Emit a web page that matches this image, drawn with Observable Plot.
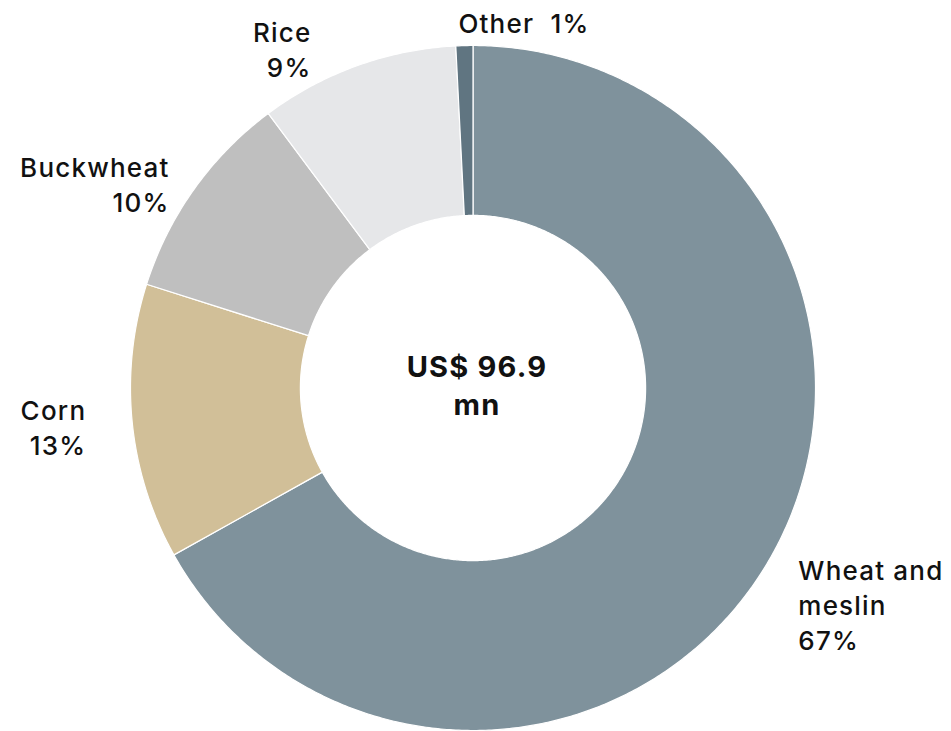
<!DOCTYPE html>
<html><head><meta charset="utf-8">
<script src="https://cdn.jsdelivr.net/npm/d3@7"></script>
<script src="https://cdn.jsdelivr.net/npm/@observablehq/plot@0.6"></script>
<style>body{margin:0;background:#fff}</style>
</head><body><div id="chart"></div>
<script>
// ---- data ----
const categories = ["Wheat and meslin", "Corn", "Buckwheat", "Rice", "Other"];
const shares = [66.9, 13.0, 9.9, 9.4, 0.8];
const labelNames = ["Wheat and\nmeslin", "Corn", "Buckwheat", "Rice", "Other"];
const centerLabel = "US$ 96.9\nmn";
const colors = ["#7f929c", "#d1bf98", "#bfbfbf", "#e6e7e9", "#607581"];

// ---- layout ----
const W = 951, H = 731, CX = 472.5, CY = 387.5, R = 342.5, INNER = 0.504;
const labelLayout = {
  "Wheat and meslin": {anchor: "start", dx: 30, dy: 89, sep: "\n"},
  "Corn": {anchor: "end", dx: -46, dy: 33, sep: "\n"},
  "Buckwheat": {anchor: "end", dx: -24.5, dy: 23, sep: "\n"},
  "Rice": {anchor: "end", dx: -45.5, dy: 11, sep: "\n"},
  "Other": {anchor: "start", dx: -6, dy: -13, sep: "\u00a0\u00a0"}
};

const total = d3.sum(shares);
let acc = 0;
const slices = categories.map((name, i) => {
  const a0 = acc / total * 2 * Math.PI;
  acc += shares[i];
  const a1 = acc / total * 2 * Math.PI;
  return {name, a0, a1, value: shares[i], label: labelNames[i]};
});

const ring = slices.flatMap(s => {
  const n = Math.max(2, Math.ceil((s.a1 - s.a0) / (Math.PI / 360)));
  const pts = [];
  for (let k = 0; k <= n; k++) {
    const a = s.a0 + (s.a1 - s.a0) * k / n;
    pts.push({name: s.name, x: Math.sin(a), y: Math.cos(a)});
  }
  for (let k = n; k >= 0; k--) {
    const a = s.a0 + (s.a1 - s.a0) * k / n;
    pts.push({name: s.name, x: INNER * Math.sin(a), y: INNER * Math.cos(a)});
  }
  return pts;
});

const labelMarks = slices.map(s => {
  const L = labelLayout[s.name];
  const mid = (s.a0 + s.a1) / 2;
  const d = {x: Math.sin(mid), y: Math.cos(mid), text: s.label + L.sep + Math.round(s.value) + "%"};
  return Plot.text([d], {
    x: "x", y: "y", text: "text",
    textAnchor: L.anchor, dx: L.dx, dy: L.dy,
    lineAnchor: "bottom", lineHeight: 1.346,
    fontSize: 26, fontWeight: 500, fill: "#111"
  });
});

const chart = Plot.plot({
  width: W, height: H, margin: 0,
  x: {domain: [-CX / R, (W - CX) / R], axis: null},
  y: {domain: [-(H - CY) / R, CY / R], axis: null},
  color: {domain: categories, range: colors},
  style: {fontFamily: "Inter, sans-serif", background: "#fff", letterSpacing: "1.2px"},
  marks: [
    Plot.line(ring, {x: "x", y: "y", z: "name", fill: "name", stroke: "white", strokeWidth: 1.2, curve: "linear-closed"}),
    ...labelMarks,
    Plot.text([{x: 0, y: 0, text: centerLabel}], {
      x: "x", y: "y", text: "text", textAnchor: "middle", dx: 4, dy: 26.5,
      lineAnchor: "bottom", lineHeight: 1.31, fontSize: 29, fontWeight: 700, fill: "#111"
    })
  ]
});
document.getElementById("chart").appendChild(chart);
</script>
</body></html>
